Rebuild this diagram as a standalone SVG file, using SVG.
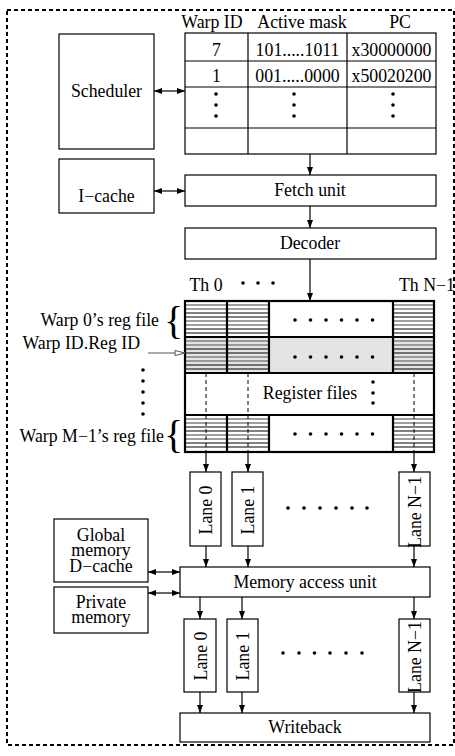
<svg xmlns="http://www.w3.org/2000/svg" width="455" height="756" viewBox="0 0 455 756">
<defs>
<marker id="ah" markerUnits="userSpaceOnUse" markerWidth="9" markerHeight="7" refX="8" refY="3" orient="auto-start-reverse"><path d="M0,0 L8,3 L0,6 z" fill="#000"/></marker>
<marker id="oh" markerUnits="userSpaceOnUse" markerWidth="12" markerHeight="8" refX="11" refY="3.5" orient="auto"><path d="M1,1 L11,3.5 L1,6 z" fill="#fff" stroke="#555" stroke-width="1"/></marker>
</defs>
<style>
.box{fill:#fff;stroke:#000;stroke-width:1.2}
.t{font-family:"Liberation Serif","Times New Roman",serif;font-size:17.8px;fill:#000}
.c{text-anchor:middle}
.e{text-anchor:end}
.br{font-size:40px}
.conn{stroke:#000;stroke-width:1.2;fill:none;marker-end:url(#ah)}
.dbl{marker-start:url(#ah)}
.g{stroke:#808080;stroke-width:1.3;fill:none}
.k{stroke:#000;stroke-width:1.1;fill:none}
.thick{stroke:#000;stroke-width:2.2;fill:none}
.dash{stroke:#000;stroke-width:1;stroke-dasharray:4 3;fill:none}
</style>
<rect x="7" y="10" width="447" height="735" fill="none" stroke="#000" stroke-width="2" stroke-dasharray="4 3"/>

<g id="scheduler"><rect class="box" x="59" y="34" width="95" height="115"/><text class="t c" x="106.5" y="97">Scheduler</text></g>
<g id="icache"><rect class="box" x="59" y="159" width="95" height="54"/><text class="t c" x="106.5" y="202">I−cache</text></g>

<g id="warp-table">
<text class="t c" x="212" y="28">Warp ID</text>
<text class="t c" x="302" y="28">Active mask</text>
<text class="t c" x="400" y="28">PC</text>
<rect class="box" x="185" y="33" width="251" height="121"/>
<path d="M185,61H436M185,87H436M185,128H436M248,33V154M347,33V154" stroke="#000" stroke-width="1.2" fill="none"/>
<text class="t c" x="216.5" y="56">7</text>
<text class="t c" x="297.5" y="56">101.....1011</text>
<text class="t c" x="391.5" y="56">x30000000</text>
<text class="t c" x="216.5" y="82">1</text>
<text class="t c" x="297.5" y="82">001.....0000</text>
<text class="t c" x="391.5" y="82">x50020200</text>
<g fill="#000"><circle cx="216" cy="94" r="1.8"/><circle cx="216" cy="105" r="1.8"/><circle cx="216" cy="116" r="1.8"/><circle cx="294" cy="94" r="1.8"/><circle cx="294" cy="105" r="1.8"/><circle cx="294" cy="116" r="1.8"/><circle cx="393" cy="94" r="1.8"/><circle cx="393" cy="105" r="1.8"/><circle cx="393" cy="116" r="1.8"/></g>
</g>

<g id="fetch"><rect class="box" x="185" y="175" width="251" height="31"/><text class="t c" x="310" y="196">Fetch unit</text></g>
<g id="decoder"><rect class="box" x="185" y="228" width="251" height="31"/><text class="t c" x="310" y="249">Decoder</text></g>

<g id="thread-labels">
<text class="t c" x="206" y="291">Th 0</text>
<g fill="#000"><circle cx="243" cy="283" r="1.8"/><circle cx="258" cy="283" r="1.8"/><circle cx="273" cy="283" r="1.8"/></g>
<text class="t" x="399" y="291">Th N−1</text>
</g>

<g id="register-files">
<rect x="185" y="301" width="249" height="151" fill="#fff"/>
<rect x="185" y="337" width="249" height="36" fill="#e4e4e4"/>
<path class="g" d="M185,305H434M185,309H434M185,321H434M185,325H434M185,341H434M185,345H434M185,357H434M185,361H434M185,419H434M185,423H434M185,435H434M185,439H434"/>
<path class="k" d="M185,313H434M185,317H434M185,329H434M185,333H434M185,349H434M185,353H434M185,365H434M185,369H434M185,427H434M185,431H434M185,443H434M185,447H434"/>
<rect x="269" y="301" width="124" height="36" fill="#fff"/>
<rect x="269" y="337" width="124" height="36" fill="#e4e4e4"/>
<rect x="185" y="373" width="249" height="42" fill="#fff"/>
<rect x="269" y="415" width="124" height="37" fill="#fff"/>
<path class="dash" d="M206,373V452M248,373V452M414,373V452"/>
<rect class="thick" x="185" y="301" width="249" height="151"/>
<path class="thick" d="M185,337H434M185,373H434M185,415H434M227,301V373M269,301V373M393,301V373M227,415V452M269,415V452M393,415V452"/>
<g fill="#000">
<circle cx="295" cy="320" r="1.8"/><circle cx="310.5" cy="320" r="1.8"/><circle cx="326" cy="320" r="1.8"/><circle cx="341.5" cy="320" r="1.8"/><circle cx="357" cy="320" r="1.8"/><circle cx="372.5" cy="320" r="1.8"/>
<circle cx="295" cy="357" r="1.8"/><circle cx="310.5" cy="357" r="1.8"/><circle cx="326" cy="357" r="1.8"/><circle cx="341.5" cy="357" r="1.8"/><circle cx="357" cy="357" r="1.8"/><circle cx="372.5" cy="357" r="1.8"/>
<circle cx="295" cy="434" r="1.8"/><circle cx="310.5" cy="434" r="1.8"/><circle cx="326" cy="434" r="1.8"/><circle cx="341.5" cy="434" r="1.8"/><circle cx="357" cy="434" r="1.8"/><circle cx="372.5" cy="434" r="1.8"/>
<circle cx="373" cy="382" r="1.8"/><circle cx="373" cy="393" r="1.8"/><circle cx="373" cy="403" r="1.8"/>
</g>
<text class="t c" x="310" y="399">Register files</text>
</g>

<g id="reg-labels">
<text class="t e" x="159" y="326">Warp 0’s reg file</text>
<text class="t br" x="164" y="334">{</text>
<text class="t e" x="140" y="349">Warp ID.Reg ID</text>
<g fill="#000"><circle cx="143" cy="370" r="1.8"/><circle cx="143" cy="381" r="1.8"/><circle cx="143" cy="392" r="1.8"/><circle cx="143" cy="403" r="1.8"/><circle cx="143" cy="414" r="1.8"/></g>
<text class="t e" x="164" y="442">Warp M−1’s reg file</text>
<text class="t br" x="164" y="448">{</text>
</g>

<g id="lane0-a"><rect class="box" x="190" y="472" width="31" height="74"/><text class="t c" transform="translate(211.5,510) rotate(-90)">Lane 0</text></g>
<g id="lane1-a"><rect class="box" x="232" y="472" width="31" height="74"/><text class="t c" transform="translate(253.5,510) rotate(-90)">Lane 1</text></g>
<g id="laneN-a"><rect class="box" x="399" y="472" width="31" height="74"/><text class="t c" transform="translate(420.5,512) rotate(-90)">Lane N−1</text></g>
<g id="lane-dots-a" fill="#000"><circle cx="288" cy="508" r="1.8"/><circle cx="304" cy="508" r="1.8"/><circle cx="320" cy="508" r="1.8"/><circle cx="336" cy="508" r="1.8"/><circle cx="352" cy="508" r="1.8"/><circle cx="367" cy="508" r="1.8"/></g>

<g id="global-mem"><rect class="box" x="54" y="519" width="94" height="63"/><text class="t c" x="101" y="541">Global</text><text class="t c" x="101" y="556">memory</text><text class="t c" x="101" y="572">D−cache</text></g>
<g id="private-mem"><rect class="box" x="54" y="587" width="94" height="46"/><text class="t c" x="101" y="608">Private</text><text class="t c" x="101" y="623">memory</text></g>
<g id="mau"><rect class="box" x="180" y="567" width="250" height="30"/><text class="t c" x="305" y="588">Memory access unit</text></g>

<g id="lane0-b"><rect class="box" x="184" y="619" width="32" height="73"/><text class="t c" transform="translate(206.5,656) rotate(-90)">Lane 0</text></g>
<g id="lane1-b"><rect class="box" x="227" y="619" width="31" height="73"/><text class="t c" transform="translate(248.5,656) rotate(-90)">Lane 1</text></g>
<g id="laneN-b"><rect class="box" x="399" y="619" width="31" height="73"/><text class="t c" transform="translate(420.5,657) rotate(-90)">Lane N−1</text></g>
<g id="lane-dots-b" fill="#000"><circle cx="283" cy="653" r="1.8"/><circle cx="299" cy="653" r="1.8"/><circle cx="314.5" cy="653" r="1.8"/><circle cx="330" cy="653" r="1.8"/><circle cx="346" cy="653" r="1.8"/><circle cx="362" cy="653" r="1.8"/></g>

<g id="writeback"><rect class="box" x="180" y="713" width="250" height="29"/><text class="t c" x="305" y="733">Writeback</text></g>

<g id="connectors">
<path class="conn dbl" d="M154,91H185"/>
<path class="conn dbl" d="M154,191H185"/>
<path class="conn" d="M310,154V175"/>
<path class="conn" d="M310,206V228"/>
<path class="conn" d="M310,259V301"/>
<path d="M148,353H185" stroke="#555" stroke-width="1.2" fill="none" marker-end="url(#oh)"/>
<path class="conn" d="M206,452V472"/>
<path class="conn" d="M248,452V472"/>
<path class="conn" d="M414,452V472"/>
<path class="conn" d="M206,546V567"/>
<path class="conn" d="M248,546V567"/>
<path class="conn" d="M414,546V567"/>
<path class="conn dbl" d="M148,572H180"/>
<path class="conn dbl" d="M148,593H180"/>
<path class="conn" d="M200,597V619"/>
<path class="conn" d="M242,597V619"/>
<path class="conn" d="M414,597V619"/>
<path class="conn" d="M200,692V713"/>
<path class="conn" d="M242,692V713"/>
<path class="conn" d="M414,692V713"/>
</g>
</svg>
